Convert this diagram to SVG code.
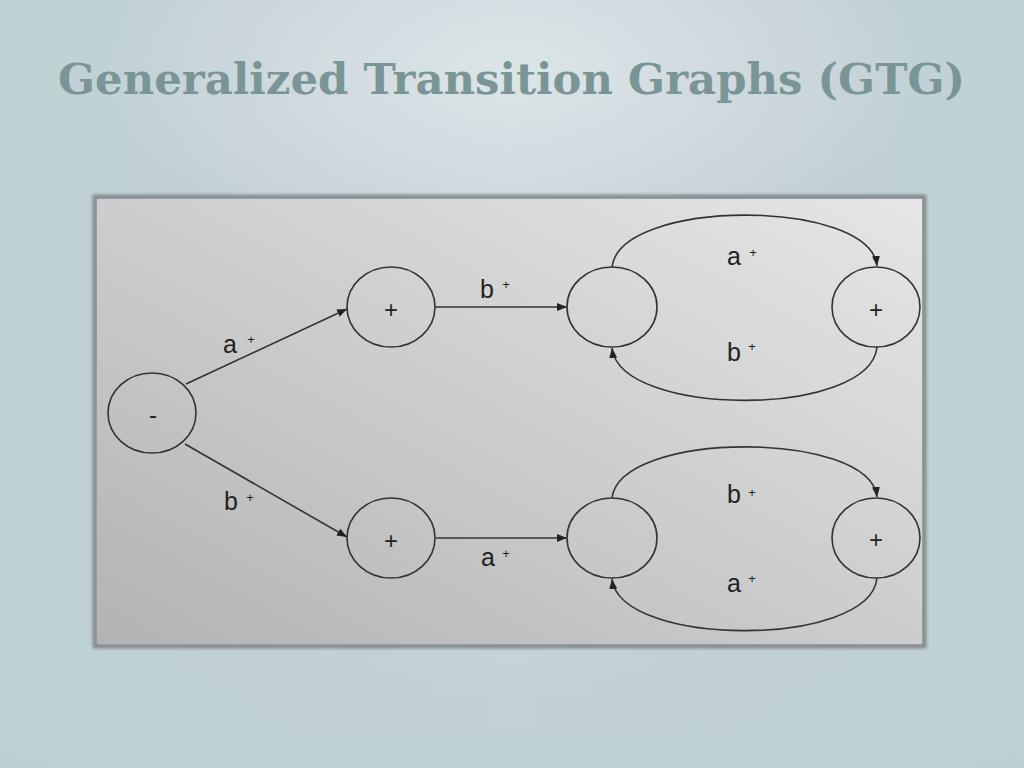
<svg xmlns="http://www.w3.org/2000/svg" width="1024" height="768" viewBox="0 0 1024 768">
  <defs>
    <linearGradient id="bgH" x1="0" y1="0" x2="1" y2="0">
      <stop offset="0" stop-color="#bdd2d3"/>
      <stop offset="0.3" stop-color="#c6d0d8"/>
      <stop offset="0.5" stop-color="#cbd4db"/>
      <stop offset="0.7" stop-color="#c6d0d8"/>
      <stop offset="1" stop-color="#bdd2d3"/>
    </linearGradient>
    <radialGradient id="bgR" cx="512" cy="70" r="420" gradientUnits="userSpaceOnUse" gradientTransform="translate(512 70) scale(1 0.45) translate(-512 -70)">
      <stop offset="0" stop-color="#dde6e8" stop-opacity="0.9"/>
      <stop offset="1" stop-color="#dde6e8" stop-opacity="0"/>
    </radialGradient>
    <linearGradient id="bgV" x1="0" y1="0" x2="0" y2="1">
      <stop offset="0" stop-color="#bdd0d2" stop-opacity="0"/>
      <stop offset="0.75" stop-color="#bdd0d2" stop-opacity="0"/>
      <stop offset="1" stop-color="#bcd0d2" stop-opacity="0.8"/>
    </linearGradient>
    <linearGradient id="panel" x1="1" y1="0" x2="0" y2="1">
      <stop offset="0" stop-color="#e6e6e6"/>
      <stop offset="0.5" stop-color="#cdcdcd"/>
      <stop offset="1" stop-color="#b3b3b3"/>
    </linearGradient>
    <filter id="soft" x="-5%" y="-5%" width="110%" height="110%">
      <feGaussianBlur stdDeviation="1.6"/>
    </filter>
    <marker id="arrow" viewBox="0 0 10 8" refX="10" refY="4" markerWidth="10" markerHeight="8" markerUnits="userSpaceOnUse" orient="auto">
      <path d="M0,0 L10,4 L0,8 z" fill="#222"/>
    </marker>
    <style>
      .node { fill: none; stroke: #333; stroke-width: 1.6; }
      .edge { fill: none; stroke: #333; stroke-width: 1.6; marker-end: url(#arrow); }
      .lbl { font-family: "Liberation Sans", Arial, sans-serif; font-size: 25px; fill: #222; }
      .sup { font-family: "Liberation Sans", Arial, sans-serif; font-size: 13px; fill: #222; text-anchor: middle; }
      .nlbl { font-family: "Liberation Sans", Arial, sans-serif; font-size: 24px; fill: #222; text-anchor: middle; }
      .title { font-family: "DejaVu Serif", "Liberation Serif", serif; font-weight: bold; font-size: 43px; fill: #7a9595; }
    </style>
  </defs>

  <!-- background -->
  <rect x="0" y="0" width="1024" height="768" fill="url(#bgH)"/>
  <rect x="0" y="0" width="1024" height="768" fill="url(#bgR)"/>
  <rect x="0" y="0" width="1024" height="768" fill="url(#bgV)"/>

  <!-- title -->
  <text class="title" x="58" y="94" textLength="907" lengthAdjust="spacingAndGlyphs">Generalized Transition Graphs (GTG)</text>

  <!-- panel -->
  <rect x="95" y="197" width="829" height="449" fill="none" stroke="#858b8f" stroke-width="5" filter="url(#soft)"/>
  <rect x="97" y="199" width="825" height="445" fill="url(#panel)"/>

  <!-- connectors -->
  <g id="connectors">
    <line class="edge" x1="186" y1="384" x2="347" y2="309"/>
    <line class="edge" x1="435" y1="307" x2="567" y2="307"/>
    <path class="edge" d="M612,267 C620,198 870,198 877,266"/>
    <path class="edge" d="M877,347 C870,418 620,418 612,348"/>
    <line class="edge" x1="185" y1="444" x2="347" y2="537"/>
    <line class="edge" x1="436" y1="538" x2="567" y2="538"/>
    <path class="edge" d="M612,498 C620,430 870,430 877,497"/>
    <path class="edge" d="M877,578 C870,648 620,648 612,579"/>
  </g>

  <!-- edge labels -->
  <g id="edge-labels">
    <text class="lbl" x="223" y="353">a</text><text class="sup" x="251" y="344">+</text>
    <text class="lbl" x="480" y="298">b</text><text class="sup" x="506" y="289">+</text>
    <text class="lbl" x="727" y="265">a</text><text class="sup" x="753" y="257">+</text>
    <text class="lbl" x="727" y="361">b</text><text class="sup" x="752" y="351">+</text>
    <text class="lbl" x="224" y="510">b</text><text class="sup" x="250" y="502">+</text>
    <text class="lbl" x="481" y="566">a</text><text class="sup" x="506" y="558">+</text>
    <text class="lbl" x="727" y="503">b</text><text class="sup" x="752" y="497">+</text>
    <text class="lbl" x="727" y="592">a</text><text class="sup" x="752" y="583">+</text>
  </g>

  <!-- nodes -->
  <g id="start">
    <ellipse class="node" cx="152" cy="413" rx="44" ry="40"/>
    <text class="nlbl" x="153" y="423">-</text>
  </g>
  <g id="upper-plus">
    <ellipse class="node" cx="391" cy="307" rx="44" ry="40"/>
    <text class="nlbl" x="391" y="318">+</text>
  </g>
  <g id="upper-mid">
    <ellipse class="node" cx="612" cy="307" rx="45" ry="40"/>
  </g>
  <g id="upper-final">
    <ellipse class="node" cx="876" cy="307" rx="44" ry="40"/>
    <text class="nlbl" x="876" y="318">+</text>
  </g>
  <g id="lower-plus">
    <ellipse class="node" cx="391" cy="538" rx="44" ry="40"/>
    <text class="nlbl" x="391" y="549">+</text>
  </g>
  <g id="lower-mid">
    <ellipse class="node" cx="612" cy="538" rx="45" ry="40"/>
  </g>
  <g id="lower-final">
    <ellipse class="node" cx="876" cy="538" rx="44" ry="40"/>
    <text class="nlbl" x="876" y="548">+</text>
  </g>
</svg>
